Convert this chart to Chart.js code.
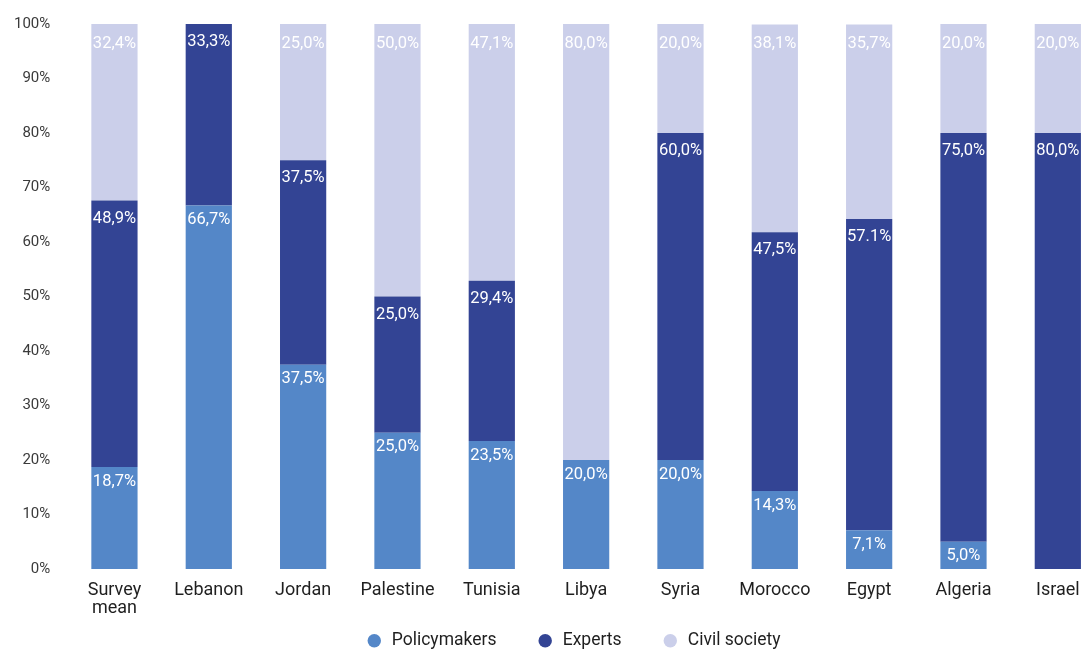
<!DOCTYPE html>
<html>
<head>
<meta charset="utf-8">
<title>Respondent groups by country</title>
<script src="https://cdn.jsdelivr.net/npm/chart.js@4/dist/chart.umd.min.js"></script>
<style>
  html, body { margin: 0; padding: 0; background: #ffffff; overflow: hidden; }
  #wrap { position: relative; width: 1146px; height: 660px; }
</style>
</head>
<body>
<div id="wrap"><canvas id="chart"></canvas></div>
<script>
// Categories along the x axis (first one wraps onto two lines)
const categories = [['Survey', 'mean'], 'Lebanon', 'Jordan', 'Palestine', 'Tunisia', 'Libya', 'Syria', 'Morocco', 'Egypt', 'Algeria', 'Israel'];

// Share of respondents per group, in percent
const policymakers = [18.7, 66.7, 37.5, 25.0, 23.5, 20.0, 20.0, 14.3, 7.1, 5.0, 0];
const experts      = [48.9, 33.3, 37.5, 25.0, 29.4, 0, 60.0, 47.5, 57.1, 75.0, 80.0];
const civilSociety = [32.4, 0, 25.0, 50.0, 47.1, 80.0, 20.0, 38.1, 35.7, 20.0, 20.0];

// Series names
const seriesNames = ['Policymakers', 'Experts', 'Civil society'];

// Y axis ticks
const yTicks = [0, 10, 20, 30, 40, 50, 60, 70, 80, 90, 100];

// Cells whose label is printed with a decimal point instead of a comma
const pointDecimalCells = [[1, 8]];

const FONT = 'Roboto, "Open Sans", Arial, sans-serif';

function shareLabel(v, di, i) {
  const useDot = pointDecimalCells.some(c => c[0] === di && c[1] === i);
  const s = v.toFixed(1);
  return (useDot ? s : s.replace('.', ',')) + '%';
}

// White value labels drawn just inside the top of every non-empty segment
const segmentLabels = {
  id: 'segmentLabels',
  afterDatasetsDraw(chart) {
    const ctx = chart.ctx;
    ctx.save();
    ctx.font = '16.5px ' + FONT;
    ctx.fillStyle = '#ffffff';
    ctx.textAlign = 'center';
    ctx.textBaseline = 'middle';
    chart.data.datasets.forEach((ds, di) => {
      const meta = chart.getDatasetMeta(di);
      if (meta.hidden) return;
      meta.data.forEach((bar, i) => {
        const v = ds.data[i];
        if (!v) return;
        const top = Math.min(bar.y, bar.base);
        ctx.fillText(shareLabel(v, di, i), bar.x, top + ds.labelOffset);
      });
    });
    ctx.restore();
  }
};

// Legend centred on the whole canvas and tucked under the axis labels
const legendPlacement = {
  id: 'legendPlacement',
  afterLayout(chart) {
    const lg = chart.legend;
    if (!lg) return;
    lg.left = 0;
    lg.right = chart.width;
    lg.top -= 26;
    lg.bottom = chart.height;
  }
};

new Chart(document.getElementById('chart'), {
  type: 'bar',
  data: {
    labels: categories,
    datasets: [
      { label: seriesNames[0], data: policymakers, backgroundColor: '#5487c8', labelOffset: 14.5 },
      { label: seriesNames[1], data: experts,      backgroundColor: '#334494', labelOffset: 18 },
      { label: seriesNames[2], data: civilSociety, backgroundColor: '#cbcfea', labelOffset: 19.5 }
    ]
  },
  options: {
    responsive: true,
    maintainAspectRatio: false,
    animation: false,
    layout: { padding: { top: 24, left: 13, right: 41, bottom: 0 } },
    datasets: {
      bar: { categoryPercentage: 1, barPercentage: 0.49, borderWidth: 0, stack: 'share' }
    },
    scales: {
      x: {
        stacked: true,
        grid: { display: false, drawTicks: true, tickLength: 11 },
        border: { display: false },
        ticks: {
          color: '#1f1f1f',
          font: { family: FONT, size: 18, lineHeight: 1.0 },
          padding: 1,
          maxRotation: 0,
          minRotation: 0,
          autoSkip: false
        }
      },
      y: {
        stacked: true,
        min: 0,
        max: 100,
        grid: { display: false, drawTicks: true, tickLength: 16 },
        border: { display: false },
        afterBuildTicks(axis) { axis.ticks = yTicks.map(v => ({ value: v })); },
        ticks: {
          color: '#3a3a3a',
          font: { family: FONT, size: 15 },
          padding: 1,
          callback: v => v + '%'
        }
      }
    },
    plugins: {
      legend: {
        position: 'bottom',
        maxHeight: 42,
        labels: {
          usePointStyle: true,
          pointStyle: 'circle',
          boxWidth: 18,
          boxHeight: 9.5,
          padding: 40,
          color: '#1f1f1f',
          font: { family: FONT, size: 17.5 }
        }
      },
      tooltip: { enabled: false }
    }
  },
  plugins: [segmentLabels, legendPlacement]
});
</script>
</body>
</html>
